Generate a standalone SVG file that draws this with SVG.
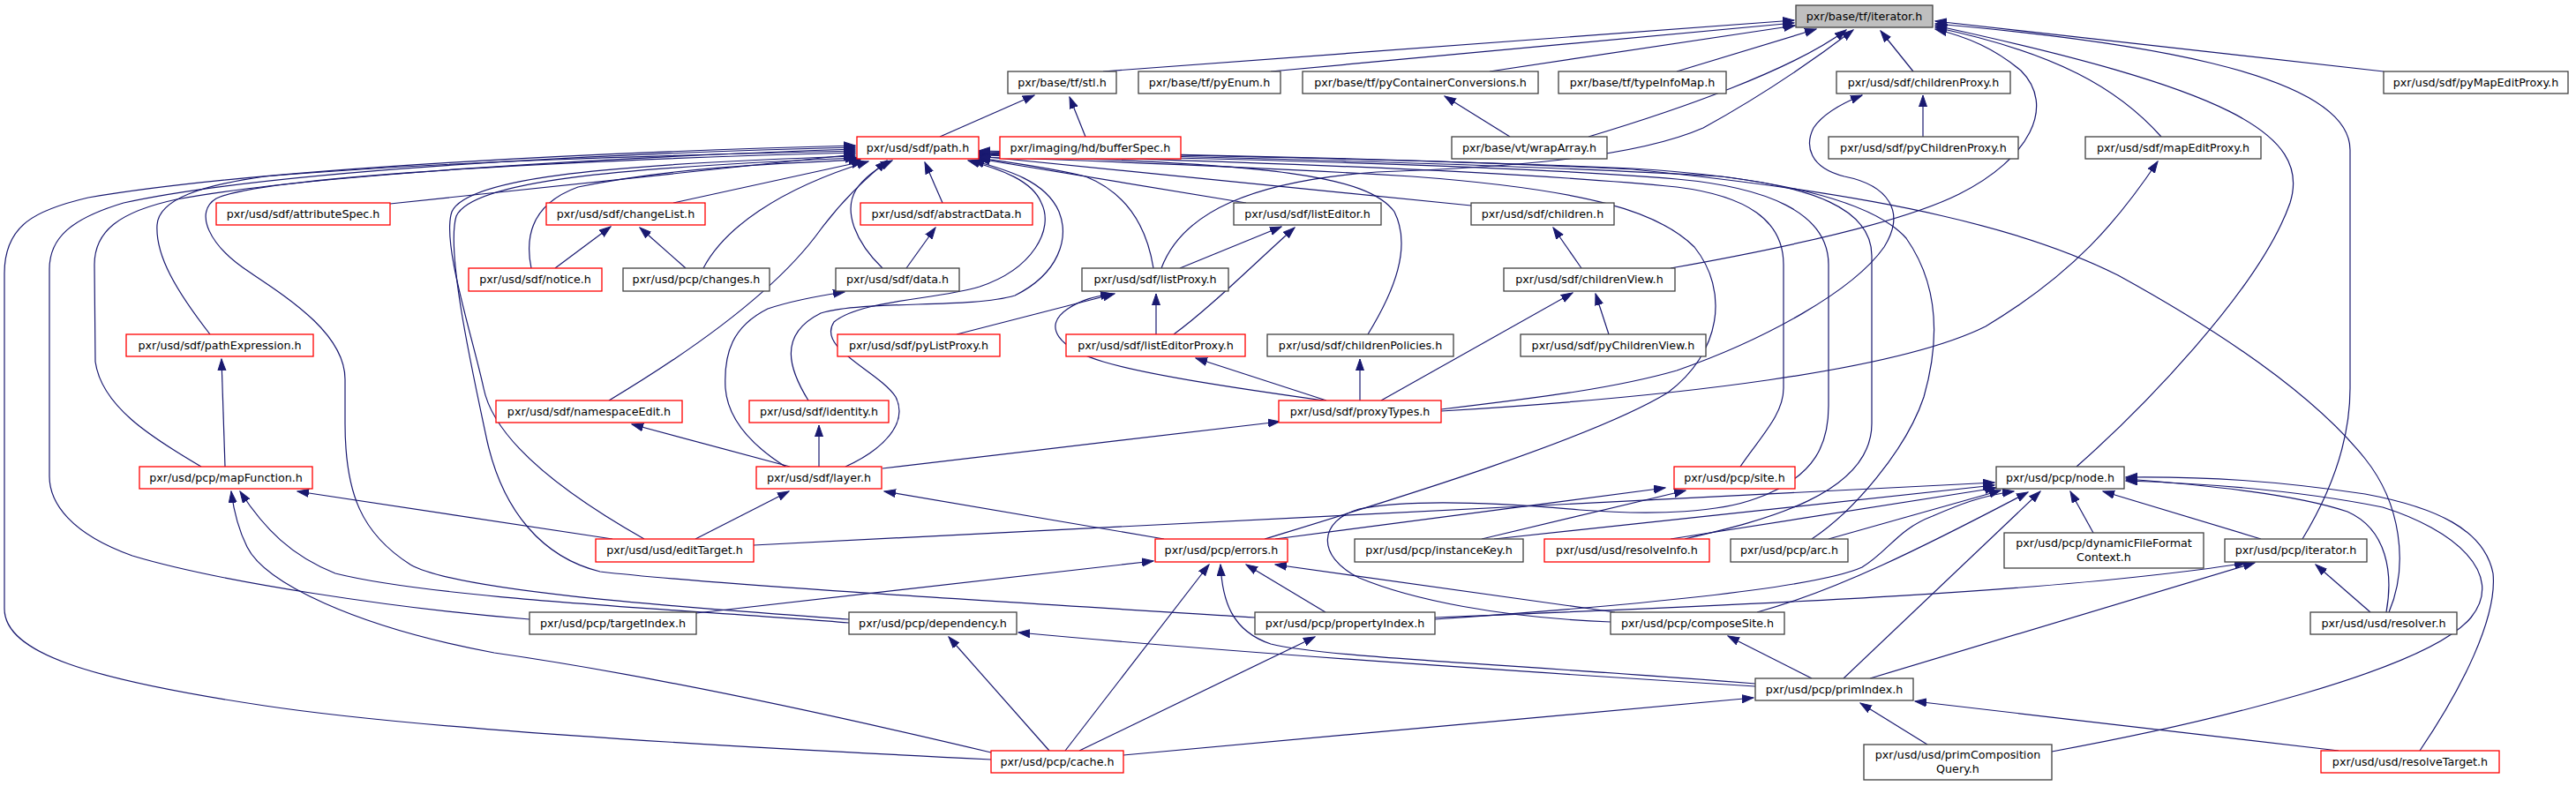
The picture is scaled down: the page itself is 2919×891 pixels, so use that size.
<svg xmlns="http://www.w3.org/2000/svg" width="2919" height="891" viewBox="0 0 2919 891">
<style>
.bg{fill:#ffffff}
.node rect{fill:#ffffff;stroke:#404040;stroke-width:1.3}
.node.red rect{stroke:#ff0000}
.node.root rect{fill:#bfbfbf;stroke:#404040}
.node text{font-family:"DejaVu Sans","Liberation Sans",sans-serif;font-size:12.7px;fill:#000000;text-anchor:middle}
#edges path{fill:none;stroke:#191970;stroke-width:1.2;marker-end:url(#ah)}
</style>
<defs>
<marker id="ah" markerUnits="userSpaceOnUse" markerWidth="14" markerHeight="11" refX="13" refY="5" orient="auto">
<path d="M0,0.5 L13,5 L0,9.5 z" fill="#191970" stroke="#191970" stroke-width="1"/>
</marker>
</defs>
<rect class="bg" x="0" y="0" width="2919" height="891"/>
<g id="edges">
<path d="M1250,81 L2033,23"/>
<path d="M1440,81 L2033,26"/>
<path d="M1688,81 L2034,29"/>
<path d="M1900,81 L2058,33"/>
<path d="M1800,155 C1900,125 2030,80 2092,34"/>
<path d="M1316,304 C1340,240 1420,205 1560,195 C1700,190 1850,180 1930,145 C1990,112 2050,72 2100,34"/>
<path d="M2168,81 L2131,35"/>
<path d="M1893,304 C2000,285 2150,255 2220,220 C2300,180 2330,120 2290,80 C2260,55 2230,42 2193,33"/>
<path d="M2449,155 C2400,100 2330,60 2193,31"/>
<path d="M2353,529 C2420,470 2560,330 2595,230 C2620,150 2520,100 2193,29"/>
<path d="M2609,611 C2640,560 2663,500 2663,440 L2663,170 C2663,80 2400,45 2193,27"/>
<path d="M2701,81 L2193,24"/>
<path d="M1711,155 L1637,109"/>
<path d="M1065,155 L1172,108"/>
<path d="M1230,155 L1212,110"/>
<path d="M2179,155 L2179,108"/>
<path d="M1633,464 C1750,450 1830,440 1900,420 C2000,385 2100,330 2135,280 C2160,240 2140,210 2090,200 C2050,190 2045,165 2055,145 C2065,130 2085,118 2110,108"/>
<path d="M1633,466 C1900,450 2150,420 2250,370 C2350,310 2400,250 2445,183"/>
<path d="M1123,861 C900,850 500,830 300,800 C100,770 5,740 5,690 L5,310 C5,255 40,238 100,224 C300,190 700,172 969,165"/>
<path d="M600,702 C450,690 250,660 150,630 C80,605 56,570 56,540 L56,305 C56,270 80,248 140,230 C300,195 650,175 969,167"/>
<path d="M228,529 C170,495 115,460 108,410 L107,300 C107,262 135,240 200,226 C350,198 700,178 969,169"/>
<path d="M238,379 C200,330 176,290 178,255 C180,225 230,210 300,200 C500,183 750,176 969,171"/>
<path d="M962,702 C800,690 520,672 465,640 C410,605 391,560 391,480 L391,430 C391,380 330,340 285,310 C235,278 220,240 245,225 C300,198 700,180 969,173"/>
<path d="M442,231 L969,175"/>
<path d="M730,611 C640,560 560,500 548,440 C535,380 500,275 512,240 C530,200 700,186 969,177"/>
<path d="M1422,700 C1100,680 800,662 680,648 C615,632 570,580 552,500 C535,420 505,285 517,245 C535,205 700,190 971,179"/>
<path d="M690,454 C780,400 880,330 930,260 C960,220 985,200 1005,182"/>
<path d="M602,304 C595,270 600,232 655,212 C760,190 880,185 975,181"/>
<path d="M763,230 L978,183"/>
<path d="M797,304 C820,260 880,215 984,183"/>
<path d="M1000,304 C970,275 955,240 970,215 C980,200 995,190 1011,182"/>
<path d="M916,454 C895,420 880,380 930,355 C980,340 1100,350 1150,335 C1200,310 1212,270 1200,240 C1185,205 1140,192 1102,182"/>
<path d="M958,529 C1000,510 1030,480 1015,450 C995,420 925,395 945,365 C975,340 1060,340 1110,325 C1170,305 1195,260 1180,230 C1170,205 1135,192 1097,182"/>
<path d="M1068,230 L1048,184"/>
<path d="M1412,230 L1109,180"/>
<path d="M1307,304 C1300,260 1280,220 1230,200 C1190,190 1150,185 1109,179"/>
<path d="M1667,233 L1109,177"/>
<path d="M1550,379 C1580,330 1600,280 1580,240 C1550,200 1450,185 1109,176"/>
<path d="M1972,529 C1995,495 2021,470 2021,440 L2021,300 C2021,250 1980,222 1900,212 C1700,192 1300,180 1109,175"/>
<path d="M1825,705 C1700,700 1600,680 1540,655 C1490,630 1495,590 1540,577 C1600,565 1700,570 1790,578 C1880,585 1950,580 1990,565 C2060,540 2072,500 2072,460 L2072,300 C2072,240 2000,212 1900,203 C1700,186 1300,178 1109,174"/>
<path d="M1909,611 C2000,590 2121,560 2121,480 L2121,290 C2121,235 2050,212 1950,200 C1700,185 1300,176 1109,173"/>
<path d="M2053,611 C2100,580 2160,510 2180,450 C2200,380 2195,320 2160,270 C2120,225 2000,200 1850,191 C1600,180 1300,175 1109,172"/>
<path d="M2707,694 C2730,640 2720,570 2680,520 C2640,470 2560,400 2400,312 C2300,262 2150,222 1850,192 C1600,180 1300,174 1109,171"/>
<path d="M1433,611 C1550,575 1800,500 1890,445 C1950,400 1960,330 1920,280 C1880,240 1800,215 1600,200 C1400,188 1200,181 1109,178"/>
<path d="M629,304 L692,257"/>
<path d="M777,304 L725,258"/>
<path d="M1027,304 L1060,258"/>
<path d="M1337,304 L1452,257"/>
<path d="M1330,379 C1370,350 1420,300 1467,258"/>
<path d="M1084,379 L1263,333"/>
<path d="M1310,379 L1310,333"/>
<path d="M1500,454 C1400,440 1300,425 1250,410 C1200,395 1180,370 1210,350 C1225,340 1240,336 1260,333"/>
<path d="M1503,454 L1355,406"/>
<path d="M1541,454 L1541,407"/>
<path d="M1792,304 L1760,258"/>
<path d="M1565,454 L1782,332"/>
<path d="M1823,379 L1808,333"/>
<path d="M895,529 L716,481"/>
<path d="M928,529 L928,482"/>
<path d="M1000,531 L1450,478"/>
<path d="M890,529 C860,510 825,480 822,440 C820,400 830,370 870,350 C900,340 930,335 957,331"/>
<path d="M255,529 L251,407"/>
<path d="M1123,853 C900,800 700,760 560,740 C400,710 300,660 280,620 C270,600 265,580 262,557"/>
<path d="M962,706 C800,692 500,680 380,650 C330,630 300,600 272,557"/>
<path d="M694,611 L337,557"/>
<path d="M1319,611 L1002,557"/>
<path d="M788,611 L894,557"/>
<path d="M789,695 L1307,636"/>
<path d="M1207,851 L1370,640"/>
<path d="M1989,775 C1700,752 1500,745 1440,730 C1395,715 1385,680 1383,640"/>
<path d="M1502,694 L1412,640"/>
<path d="M1830,694 L1445,640"/>
<path d="M1445,611 L1887,553"/>
<path d="M1679,611 L1910,556"/>
<path d="M854,618 L2260,547"/>
<path d="M1693,611 L2260,550"/>
<path d="M1893,611 L2262,553"/>
<path d="M2072,611 L2267,556"/>
<path d="M1991,694 C2080,670 2180,620 2298,558"/>
<path d="M1626,702 C1800,690 2050,670 2110,643 C2140,625 2150,600 2190,585 C2220,572 2245,562 2282,557"/>
<path d="M2089,769 L2312,557"/>
<path d="M2372,604 L2346,557"/>
<path d="M2562,611 L2383,557"/>
<path d="M2704,694 C2712,650 2705,600 2660,580 C2600,560 2500,550 2409,543"/>
<path d="M2325,852 C2500,820 2750,760 2800,700 C2840,650 2780,600 2700,575 C2600,555 2500,548 2409,545"/>
<path d="M2742,851 C2790,780 2830,700 2825,650 C2815,600 2760,575 2680,560 C2580,545 2500,540 2409,541"/>
<path d="M2119,769 L2555,638"/>
<path d="M1626,700 C2000,685 2350,670 2545,638"/>
<path d="M2686,694 L2624,640"/>
<path d="M2184,844 L2108,797"/>
<path d="M2650,851 L2170,795"/>
<path d="M1273,856 L1987,791"/>
<path d="M2053,769 L1958,721"/>
<path d="M1223,851 L1490,722"/>
<path d="M1189,851 L1075,722"/>
<path d="M1989,778 C1700,760 1400,740 1154,717"/>
</g>
<g id="n-tf-iterator" class="node root"><rect x="2035" y="6" width="155" height="25"/><text x="2112.5" y="23">pxr/base/tf/iterator.h</text></g>
<g id="n-stl" class="node"><rect x="1142" y="81" width="123" height="25"/><text x="1203.5" y="98">pxr/base/tf/stl.h</text></g>
<g id="n-pyEnum" class="node"><rect x="1290" y="81" width="161" height="25"/><text x="1370.5" y="98">pxr/base/tf/pyEnum.h</text></g>
<g id="n-pyContainerConversions" class="node"><rect x="1476" y="81" width="267" height="25"/><text x="1609.5" y="98">pxr/base/tf/pyContainerConversions.h</text></g>
<g id="n-typeInfoMap" class="node"><rect x="1766" y="81" width="190" height="25"/><text x="1861" y="98">pxr/base/tf/typeInfoMap.h</text></g>
<g id="n-childrenProxy" class="node"><rect x="2081" y="81" width="197" height="25"/><text x="2179.5" y="98">pxr/usd/sdf/childrenProxy.h</text></g>
<g id="n-pyMapEditProxy" class="node"><rect x="2701" y="81" width="209" height="25"/><text x="2805.5" y="98">pxr/usd/sdf/pyMapEditProxy.h</text></g>
<g id="n-path" class="node red"><rect x="971" y="155" width="138" height="25"/><text x="1040" y="172">pxr/usd/sdf/path.h</text></g>
<g id="n-bufferSpec" class="node red"><rect x="1133" y="155" width="205" height="25"/><text x="1235.5" y="172">pxr/imaging/hd/bufferSpec.h</text></g>
<g id="n-wrapArray" class="node"><rect x="1645" y="155" width="176" height="25"/><text x="1733" y="172">pxr/base/vt/wrapArray.h</text></g>
<g id="n-pyChildrenProxy" class="node"><rect x="2072" y="155" width="215" height="25"/><text x="2179.5" y="172">pxr/usd/sdf/pyChildrenProxy.h</text></g>
<g id="n-mapEditProxy" class="node"><rect x="2363" y="155" width="199" height="25"/><text x="2462.5" y="172">pxr/usd/sdf/mapEditProxy.h</text></g>
<g id="n-attributeSpec" class="node red"><rect x="245" y="230" width="197" height="25"/><text x="343.5" y="247">pxr/usd/sdf/attributeSpec.h</text></g>
<g id="n-changeList" class="node red"><rect x="619" y="230" width="180" height="25"/><text x="709" y="247">pxr/usd/sdf/changeList.h</text></g>
<g id="n-abstractData" class="node red"><rect x="975" y="230" width="195" height="25"/><text x="1072.5" y="247">pxr/usd/sdf/abstractData.h</text></g>
<g id="n-listEditor" class="node"><rect x="1398" y="230" width="167" height="25"/><text x="1481.5" y="247">pxr/usd/sdf/listEditor.h</text></g>
<g id="n-children" class="node"><rect x="1667" y="230" width="162" height="25"/><text x="1748" y="247">pxr/usd/sdf/children.h</text></g>
<g id="n-notice" class="node red"><rect x="531" y="304" width="151" height="26"/><text x="606.5" y="321">pxr/usd/sdf/notice.h</text></g>
<g id="n-changes" class="node"><rect x="706" y="304" width="166" height="26"/><text x="789" y="321">pxr/usd/pcp/changes.h</text></g>
<g id="n-data" class="node"><rect x="947" y="304" width="140" height="26"/><text x="1017" y="321">pxr/usd/sdf/data.h</text></g>
<g id="n-listProxy" class="node"><rect x="1226" y="304" width="166" height="26"/><text x="1309" y="321">pxr/usd/sdf/listProxy.h</text></g>
<g id="n-childrenView" class="node"><rect x="1704" y="304" width="194" height="26"/><text x="1801" y="321">pxr/usd/sdf/childrenView.h</text></g>
<g id="n-pathExpression" class="node red"><rect x="143" y="379" width="212" height="25"/><text x="249" y="396">pxr/usd/sdf/pathExpression.h</text></g>
<g id="n-pyListProxy" class="node red"><rect x="949" y="379" width="184" height="25"/><text x="1041" y="396">pxr/usd/sdf/pyListProxy.h</text></g>
<g id="n-listEditorProxy" class="node red"><rect x="1208" y="379" width="203" height="25"/><text x="1309.5" y="396">pxr/usd/sdf/listEditorProxy.h</text></g>
<g id="n-childrenPolicies" class="node"><rect x="1436" y="379" width="211" height="25"/><text x="1541.5" y="396">pxr/usd/sdf/childrenPolicies.h</text></g>
<g id="n-pyChildrenView" class="node"><rect x="1723" y="379" width="210" height="25"/><text x="1828" y="396">pxr/usd/sdf/pyChildrenView.h</text></g>
<g id="n-namespaceEdit" class="node red"><rect x="562" y="454" width="211" height="25"/><text x="667.5" y="471">pxr/usd/sdf/namespaceEdit.h</text></g>
<g id="n-identity" class="node red"><rect x="849" y="454" width="158" height="25"/><text x="928" y="471">pxr/usd/sdf/identity.h</text></g>
<g id="n-proxyTypes" class="node red"><rect x="1449" y="454" width="184" height="25"/><text x="1541" y="471">pxr/usd/sdf/proxyTypes.h</text></g>
<g id="n-mapFunction" class="node red"><rect x="158" y="529" width="196" height="25"/><text x="256" y="546">pxr/usd/pcp/mapFunction.h</text></g>
<g id="n-layer" class="node red"><rect x="857" y="529" width="142" height="25"/><text x="928" y="546">pxr/usd/sdf/layer.h</text></g>
<g id="n-site" class="node red"><rect x="1897" y="529" width="137" height="25"/><text x="1965.5" y="546">pxr/usd/pcp/site.h</text></g>
<g id="n-node" class="node"><rect x="2262" y="529" width="145" height="25"/><text x="2334.5" y="546">pxr/usd/pcp/node.h</text></g>
<g id="n-editTarget" class="node red"><rect x="675" y="611" width="179" height="26"/><text x="764.5" y="628">pxr/usd/usd/editTarget.h</text></g>
<g id="n-errors" class="node red"><rect x="1309" y="611" width="150" height="26"/><text x="1384" y="628">pxr/usd/pcp/errors.h</text></g>
<g id="n-instanceKey" class="node"><rect x="1535" y="611" width="191" height="26"/><text x="1630.5" y="628">pxr/usd/pcp/instanceKey.h</text></g>
<g id="n-resolveInfo" class="node red"><rect x="1750" y="611" width="187" height="26"/><text x="1843.5" y="628">pxr/usd/usd/resolveInfo.h</text></g>
<g id="n-arc" class="node"><rect x="1961" y="611" width="133" height="26"/><text x="2027.5" y="628">pxr/usd/pcp/arc.h</text></g>
<g id="n-dynamicFileFormatContext" class="node"><rect x="2271" y="604" width="226" height="40"/><text x="2384" y="620">pxr/usd/pcp/dynamicFileFormat</text><text x="2384" y="636">Context.h</text></g>
<g id="n-pcp-iterator" class="node"><rect x="2521" y="611" width="161" height="26"/><text x="2601.5" y="628">pxr/usd/pcp/iterator.h</text></g>
<g id="n-targetIndex" class="node"><rect x="600" y="694" width="189" height="25"/><text x="694.5" y="711">pxr/usd/pcp/targetIndex.h</text></g>
<g id="n-dependency" class="node"><rect x="962" y="694" width="190" height="25"/><text x="1057" y="711">pxr/usd/pcp/dependency.h</text></g>
<g id="n-propertyIndex" class="node"><rect x="1422" y="694" width="204" height="25"/><text x="1524" y="711">pxr/usd/pcp/propertyIndex.h</text></g>
<g id="n-composeSite" class="node"><rect x="1825" y="694" width="197" height="25"/><text x="1923.5" y="711">pxr/usd/pcp/composeSite.h</text></g>
<g id="n-resolver" class="node"><rect x="2618" y="694" width="166" height="25"/><text x="2701" y="711">pxr/usd/usd/resolver.h</text></g>
<g id="n-primIndex" class="node"><rect x="1989" y="769" width="179" height="25"/><text x="2078.5" y="786">pxr/usd/pcp/primIndex.h</text></g>
<g id="n-cache" class="node red"><rect x="1123" y="851" width="150" height="25"/><text x="1198" y="868">pxr/usd/pcp/cache.h</text></g>
<g id="n-primCompositionQuery" class="node"><rect x="2112" y="844" width="213" height="40"/><text x="2218.5" y="860">pxr/usd/usd/primComposition</text><text x="2218.5" y="876">Query.h</text></g>
<g id="n-resolveTarget" class="node red"><rect x="2630" y="851" width="202" height="25"/><text x="2731" y="868">pxr/usd/usd/resolveTarget.h</text></g>
</svg>
